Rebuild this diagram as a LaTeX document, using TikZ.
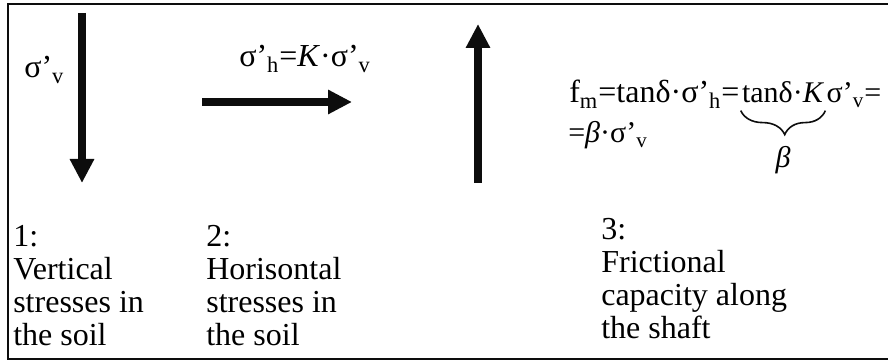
\documentclass[tikz,border=0pt]{standalone}
\usepackage{fontspec}
\setmainfont{Liberation Serif}
\usetikzlibrary{positioning,arrows.meta,decorations.pathreplacing}
\definecolor{ink}{gray}{0.05}

\tikzset{
  force/.style={ink,line width=4pt,-{Triangle[length=12pt,width=11.5pt]}},
  txt/.style={inner sep=0pt,anchor=base west,font=\fontsize{16}{16.5}\selectfont},
  formula/.style={txt,font=\fontsize{15}{16}\selectfont},
  caption/.style={txt,align=left},
  underbrace/.style={ink,line width=0.8pt,decorate,
    decoration={brace,mirror,amplitude=12pt,aspect=0.52}}
}

\begin{document}
\begin{tikzpicture}[x=0.5pt,y=-0.5pt,line width=1.3pt]
  \useasboundingbox (0,0) rectangle (888,362);
  \draw[ink] (888,4) -- (8,4) -- (8,359) -- (888,359);
  % 1: vertical stress
  \coordinate (vtop) at (82,13);
  \coordinate (vend) at (82,183);
  \draw[force] (vtop) -- (vend);
  \node[txt] (sigv) at (23,78) {σ’\textsubscript{v}};
  % 2: horizontal stress
  \coordinate (hstart) at (202,102);
  \coordinate (hend) at (352,102);
  \draw[force] (hstart) -- (hend);
  \node[txt] (sigh) at (238,67) {σ’\textsubscript{h}=\textit{K}·σ’\textsubscript{v}};
  % 3: shaft friction
  \coordinate (ustart) at (478,183);
  \coordinate (uend) at (478,24);
  \draw[force] (ustart) -- (uend);
  \node[txt] (fm) at (568,103) {f\textsubscript{m}=tanδ·σ’\textsubscript{h}=};
  \node[formula] (tanK) at (fm.base east) {tanδ·\textit{K}};
  \node[formula] (rest) at (tanK.base east) {σ’\textsubscript{v}=};
  \node[formula] (fm2) at (567,143) {=\textit{β}·σ’\textsubscript{v}};
  \draw[underbrace] ([yshift=-3pt]tanK.south west) -- coordinate (mid) ([yshift=-3pt]tanK.south east);
  \node[formula,below=17pt of mid] (beta) {\textit{β}};
  % captions (base = last line)
  \node[caption] (cap1) at (12,346) {1:\\Vertical\\stresses in\\the soil};
  \node[caption] (cap2) at (205,346) {2:\\Horisontal\\stresses in\\the soil};
  \node[caption] (cap3) at (600,339) {3:\\Frictional\\capacity along\\the shaft};
\end{tikzpicture}
\end{document}
